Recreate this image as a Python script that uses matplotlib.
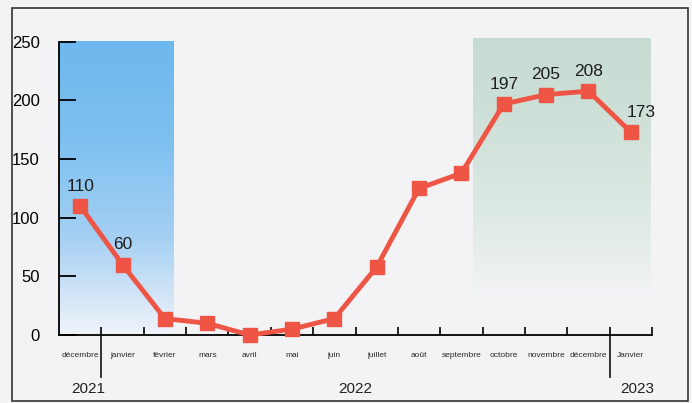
import matplotlib
matplotlib.use('Agg')
import matplotlib.pyplot as plt
import numpy as np
from matplotlib.patches import Rectangle
from matplotlib.colors import LinearSegmentedColormap
import matplotlib.transforms as mtransforms

# donnees
months = ['décembre', 'janvier', 'février', 'mars', 'avril', 'mai', 'juin', 'juillet',
          'août', 'septembre', 'octobre', 'novembre', 'décembre', 'Janvier']
values = [110, 60, 14, 10, 0, 5, 14, 58, 125, 138, 197, 205, 208, 173]
labelled = [0, 1, 10, 11, 12, 13]
years = ['2021', '2022', '2023']
year_pos = [0.2, 6.5, 13.15]
separators = [0.5, 12.5]

narrow = ['Liberation Sans', 'DejaVu Sans']
red = '#EE5545'
bg = '#F3F3F6'

fig = plt.figure(figsize=(6.92, 4.03), dpi=100, facecolor=bg)
fig.patches.append(Rectangle((12 / 692, 2 / 403), 676 / 692, 393 / 403, transform=fig.transFigure,
                             fill=False, edgecolor='#333333', linewidth=1.2))
ax = fig.add_axes([59 / 692, 1 - 335 / 403, (652 - 59) / 692, (335 - 36) / 403])
ax.set_facecolor(bg)
ax.set_xlim(-0.5, 13.5)
ax.set_ylim(0, 255)

# zones colorees en degrade
grad = np.linspace(0, 1, 256).reshape(-1, 1)
blue_cmap = LinearSegmentedColormap.from_list('b', ['#F1F3F9', '#A4D0F3', '#7DC0F0', '#6DB8EE'])
ax.imshow(grad, cmap=blue_cmap, origin='lower', extent=(-0.5, 2.2, 0, 250), aspect='auto', zorder=0)
green_cmap = LinearSegmentedColormap.from_list('g', [bg, '#DDE9E4', '#CFE1D9', '#C6DBD1'])
ax.imshow(grad, cmap=green_cmap, origin='lower', extent=(9.27, 13.45, 30, 253), aspect='auto', zorder=0)

x = np.arange(len(months))
ax.plot(x, values, color=red, linewidth=3.5, marker='s', markersize=10,
        markerfacecolor=red, markeredgecolor=red, clip_on=False, zorder=5)
for i in labelled:
    dx = 0.25 if i == 13 else 0
    ax.annotate(str(values[i]), (x[i] + dx, values[i]), xytext=(0, 9), textcoords='offset points',
                ha='center', va='bottom', fontsize=12.5, family=narrow, color='#1E1E1E')

# axes
for s in ['top', 'right']:
    ax.spines[s].set_visible(False)
ax.spines['left'].set_bounds(0, 250)
ax.spines['left'].set_linewidth(1.3)
ax.spines['bottom'].set_linewidth(1.3)
ax.set_yticks([0, 50, 100, 150, 200, 250])
ax.tick_params(axis='y', direction='in', length=12, width=1.3, labelsize=12, pad=14)
for t in ax.get_yticklabels():
    t.set_family(narrow)
ax.set_xticks(np.arange(0.5, 14, 1))
ax.set_xticklabels([])
ax.tick_params(axis='x', direction='in', length=6, width=1.2)

trans = mtransforms.blended_transform_factory(ax.transData, ax.transAxes)
for i, m in enumerate(months):
    ax.text(x[i], -0.07, m, transform=trans, ha='center', va='center', fontsize=6,
            family=narrow, color='#2A2A2A')
for sp in separators:
    ax.plot([sp, sp], [0, -0.14], transform=trans, color='#222222', linewidth=1.3, clip_on=False)
for y_, p in zip(years, year_pos):
    ax.text(p, -0.18, y_, transform=trans, ha='center', va='center', fontsize=11,
            family=narrow, color='#222222')

plt.savefig('out.png', dpi=100, facecolor=bg)
plt.close()
